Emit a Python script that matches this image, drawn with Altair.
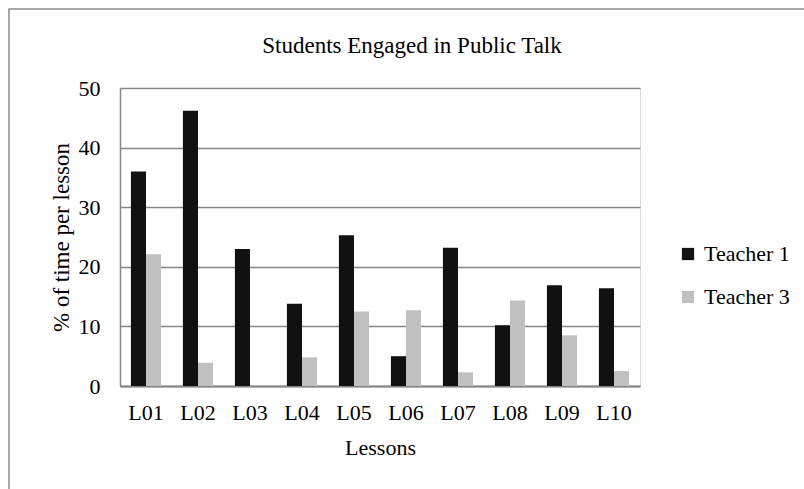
import altair as alt
import pandas as pd

lessons = ["L01", "L02", "L03", "L04", "L05", "L06", "L07", "L08", "L09", "L10"]
teacher1 = [36.0, 46.2, 23.0, 13.8, 25.3, 5.0, 23.2, 10.2, 16.9, 16.4]
teacher3 = [22.1, 3.9, 0.0, 4.8, 12.5, 12.7, 2.3, 14.35, 8.5, 2.5]
series = ["Teacher 1", "Teacher 3"]
y_ticks = [0, 10, 20, 30, 40, 50]

rows = []
for i, l in enumerate(lessons):
    rows.append({"Lesson": l, "Series": series[0], "Value": teacher1[i]})
    rows.append({"Lesson": l, "Series": series[1], "Value": teacher3[i]})
df = pd.DataFrame(rows)

FONT = "Liberation Serif"
W, H = 520, 298

bars = alt.Chart(df).mark_bar().encode(
    x=alt.X("Lesson:N", sort=lessons,
            scale=alt.Scale(paddingInner=0.42, paddingOuter=0.21),
            axis=alt.Axis(title="Lessons", labelAngle=0, ticks=False,
                          labelPadding=16, titlePadding=14,
                          domainColor="#868686", domainWidth=2,
                          labelFontSize=22, titleFontSize=22,
                          labelColor="black", titleColor="black",
                          labelFont=FONT, titleFont=FONT, titleFontWeight="normal")),
    xOffset=alt.XOffset("Series:N", sort=series),
    y=alt.Y("Value:Q", scale=alt.Scale(domain=[0, 50], nice=False),
            axis=alt.Axis(title="% of time per lesson", values=y_ticks, ticks=False,
                          labelPadding=20, titlePadding=5,
                          grid=True, gridColor="#868686", gridWidth=1.3,
                          domainColor="#868686", domainWidth=1.5,
                          labelFontSize=22, titleFontSize=23,
                          labelColor="black", titleColor="black",
                          labelFont=FONT, titleFont=FONT, titleFontWeight="normal")),
    color=alt.Color("Series:N", sort=series,
                    scale=alt.Scale(domain=series, range=["#111111", "#c0c0c0"]),
                    legend=alt.Legend(title=None, orient="none", legendX=557, legendY=155,
                                      symbolType="square", symbolSize=150,
                                      symbolStrokeWidth=0, labelFontSize=22,
                                      labelFont=FONT, labelColor="black",
                                      rowPadding=21, labelOffset=5)),
)

frame = alt.Chart(pd.DataFrame({"v": [0]})).mark_rect(
    fill=None, stroke="#8a8a8a", strokeWidth=1.5, clip=False
).encode(
    x=alt.value(-111), x2=alt.value(700), y=alt.value(-79), y2=alt.value(500)
)

chart = alt.layer(frame, bars).properties(
    width=W, height=H,
    title=alt.Title("Students Engaged in Public Talk", font=FONT, fontSize=23,
                    fontWeight="normal", color="black", offset=0, dy=50, dx=32),
    padding={"left": 120, "top": 88, "right": 164, "bottom": 103},
    autosize=alt.AutoSizeParams(type="none"),
).configure_view(stroke=None).configure(background="white")

chart.save("out.html", embed_options={"renderer": "svg", "actions": False})
